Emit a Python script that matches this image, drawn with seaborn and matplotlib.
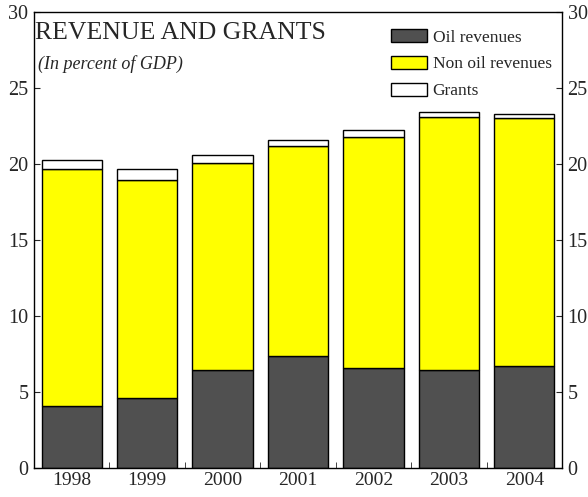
import numpy as np
import pandas as pd
import matplotlib
matplotlib.use("Agg")
import matplotlib.pyplot as plt
import matplotlib.patches as mpatches
from matplotlib.ticker import FixedLocator
import seaborn as sns

## Data (percent of GDP)
years = ["1998", "1999", "2000", "2001", "2002", "2003", "2004"]
oil = [4.07, 4.62, 6.44, 7.40, 6.60, 6.44, 6.73]
non_oil_top = [19.64, 18.98, 20.04, 21.16, 21.80, 23.11, 23.00]
grants_top = [20.24, 19.67, 20.58, 21.58, 22.24, 23.44, 23.27]

non_oil = [t - o for t, o in zip(non_oil_top, oil)]
grants = [g - t for g, t in zip(grants_top, non_oil_top)]

df = pd.DataFrame({"Year": years, "Oil": oil, "NonOil": non_oil, "Grants": grants})

sns.set_style("ticks")
plt.rcParams["font.family"] = ["Liberation Serif", "DejaVu Serif"]

fig = plt.figure(figsize=(5.88, 4.97), dpi=100)
ax = fig.add_axes([34 / 588, 29 / 497, 528 / 588, 456 / 497])

dark = "#505050"
yellow = "#FFFF00"

sns.barplot(data=df, x="Year", y="Oil", color=dark, saturation=1, width=0.8,
            edgecolor="black", linewidth=1, ax=ax)
sns.barplot(data=df, x="Year", y="NonOil", bottom=df["Oil"], color=yellow, saturation=1,
            width=0.8, edgecolor="black", linewidth=1, ax=ax)
sns.barplot(data=df, x="Year", y="Grants", bottom=df["Oil"] + df["NonOil"], color="white",
            saturation=1, width=0.8, edgecolor="black", linewidth=1, ax=ax)

ax.set_xlim(-0.5, 6.5)
ax.set_ylim(0, 30)
ax.set_yticks(range(0, 31, 5))
ax.set_xlabel("")
ax.set_ylabel("")

# tick styling: inward, both sides, category separators on x
ax.tick_params(axis="y", direction="in", left=True, right=True, labelleft=True,
               labelright=True, length=4, labelsize=14.5, pad=4)
ax.tick_params(axis="x", which="major", length=0, labelsize=14, pad=3)
ax.xaxis.set_minor_locator(FixedLocator(np.arange(0.5, 6, 1)))
ax.tick_params(axis="x", which="minor", direction="in", length=4, bottom=True)
for s in ax.spines.values():
    s.set_linewidth(1)
    s.set_color("black")

# title block inside the axes
ax.text(0.002, 0.978, "REVENUE AND GRANTS", transform=ax.transAxes, fontsize=18.5,
        va="top", ha="left")
ax.text(0.008, 0.905, "(In percent of GDP)", transform=ax.transAxes, fontsize=13,
        style="italic", va="top", ha="left")

handles = [mpatches.Patch(facecolor=dark, edgecolor="black", label="Oil revenues"),
           mpatches.Patch(facecolor=yellow, edgecolor="black", label="Non oil revenues"),
           mpatches.Patch(facecolor="white", edgecolor="black", label="Grants")]
ax.legend(handles=handles, loc="upper right", bbox_to_anchor=(1.0, 0.985), frameon=False,
          fontsize=12.5, handlelength=2.1, handleheight=0.75, handletextpad=0.3,
          labelspacing=0.6, borderaxespad=0.2)

fig.savefig("out.png", dpi=100)
